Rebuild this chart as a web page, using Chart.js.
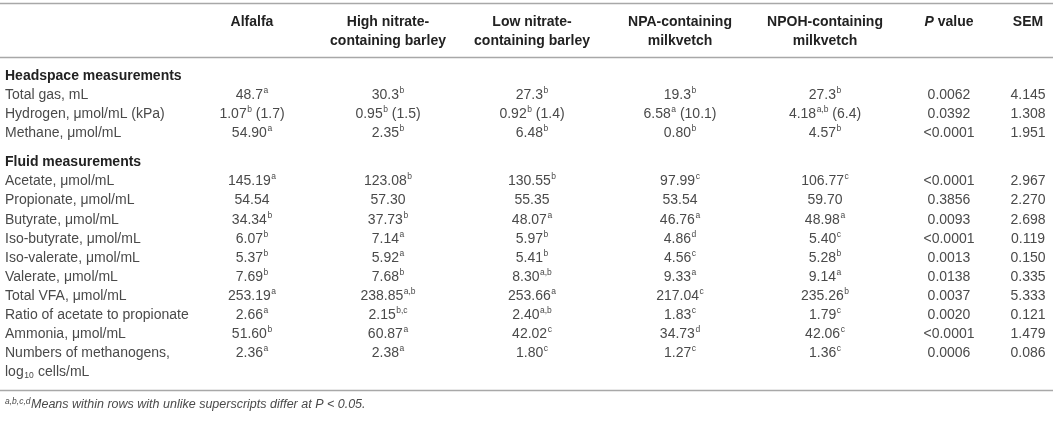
<!DOCTYPE html>
<html>
<head>
<meta charset="utf-8">
<script src="https://cdn.jsdelivr.net/npm/chart.js@4.4.1/dist/chart.umd.min.js"></script>
<style>
  html, body { margin: 0; padding: 0; background: #ffffff; }
  #wrap { width: 1055px; height: 421px; position: relative; }
</style>
</head>
<body>
<div id="wrap"><canvas id="c"></canvas></div>
<script>
// ---------------- DATA ----------------
const columnHeaders = [
  ['Alfalfa'],
  ['High nitrate-', 'containing barley'],
  ['Low nitrate-', 'containing barley'],
  ['NPA-containing', 'milkvetch'],
  ['NPOH-containing', 'milkvetch'],
  ['P value'],
  ['SEM']
];
const sections = ['Headspace measurements', 'Fluid measurements'];
const sectionRowCounts = [3, 10];
const rowLabels = [
  'Total gas, mL',
  'Hydrogen, \u03bcmol/mL (kPa)',
  'Methane, \u03bcmol/mL',
  'Acetate, \u03bcmol/mL',
  'Propionate, \u03bcmol/mL',
  'Butyrate, \u03bcmol/mL',
  'Iso-butyrate, \u03bcmol/mL',
  'Iso-valerate, \u03bcmol/mL',
  'Valerate, \u03bcmol/mL',
  'Total VFA, \u03bcmol/mL',
  'Ratio of acetate to propionate',
  'Ammonia, \u03bcmol/mL',
  'Numbers of methanogens,'
];
const rowDecimals = [1, 2, 2, 2, 2, 2, 2, 2, 2, 2, 2, 2, 2];

const alfalfa     = [48.7, 1.07, 54.90, 145.19, 54.54, 34.34, 6.07, 5.37, 7.69, 253.19, 2.66, 51.60, 2.36];
const alfalfaSup  = ['a', 'b', 'a', 'a', '', 'b', 'b', 'b', 'b', 'a', 'a', 'b', 'a'];
const highNitrate    = [30.3, 0.95, 2.35, 123.08, 57.30, 37.73, 7.14, 5.92, 7.68, 238.85, 2.15, 60.87, 2.38];
const highNitrateSup = ['b', 'b', 'b', 'b', '', 'b', 'a', 'a', 'b', 'a,b', 'b,c', 'a', 'a'];
const lowNitrate     = [27.3, 0.92, 6.48, 130.55, 55.35, 48.07, 5.97, 5.41, 8.30, 253.66, 2.40, 42.02, 1.80];
const lowNitrateSup  = ['b', 'b', 'b', 'b', '', 'a', 'b', 'b', 'a,b', 'a', 'a,b', 'c', 'c'];
const npaMilkvetch    = [19.3, 6.58, 0.80, 97.99, 53.54, 46.76, 4.86, 4.56, 9.33, 217.04, 1.83, 34.73, 1.27];
const npaMilkvetchSup = ['b', 'a', 'b', 'c', '', 'a', 'd', 'c', 'a', 'c', 'c', 'd', 'c'];
const npohMilkvetch    = [27.3, 4.18, 4.57, 106.77, 59.70, 48.98, 5.40, 5.28, 9.14, 235.26, 1.79, 42.06, 1.36];
const npohMilkvetchSup = ['b', 'a,b', 'b', 'c', '', 'a', 'c', 'b', 'a', 'b', 'c', 'c', 'c'];
const hydrogenKPa = [1.7, 1.5, 1.4, 10.1, 6.4];   // shown in brackets on the hydrogen row
const hydrogenRow = 1;
const pValues = ['0.0062', '0.0392', '<0.0001', '<0.0001', '0.3856', '0.0093', '<0.0001', '0.0013', '0.0138', '0.0037', '0.0020', '<0.0001', '0.0006'];
const sem = [4.145, 1.308, 1.951, 2.967, 2.270, 2.698, 0.119, 0.150, 0.335, 5.333, 0.121, 1.479, 0.086];
const footnoteSup = 'a,b,c,d';
const footnoteText = 'Means within rows with unlike superscripts differ at P < 0.05.';

// ---------------- LAYOUT (not data) ----------------
const W = 1055, H = 421;
const LABEL_X = 5;
const COL_X = [252, 388, 532, 680, 825, 949, 1028];
const HEAD_Y = [22, 41];
const RULE_TOP = 3, RULE_MID = 57, RULE_BOT = 390;
const PITCH = 19.1;
const FOOT_Y = 405;
const FAM = '"Liberation Sans", Arial, Helvetica, sans-serif';
const FONT_BODY = '14px ' + FAM;
const FONT_BOLD = 'bold 14px ' + FAM;
const FONT_SUP = '8.5px ' + FAM;
const BODY_COLOR = '#4a4a4a';
const HEAD_COLOR = '#222222';
const RULE_COLOR = '#a8a8a8';

// compute row y positions from the section structure
const sectionY = [];
const rowY = [];
(function () {
  let y = 76;
  sections.forEach((s, si) => {
    if (si > 0) y += 10;
    sectionY.push(y);
    y += PITCH;
    for (let k = 0; k < sectionRowCounts[si]; k++) {
      rowY.push(y);
      y += PITCH;
    }
  });
})();

const treatmentValues = [alfalfa, highNitrate, lowNitrate, npaMilkvetch, npohMilkvetch];
const treatmentSups = [alfalfaSup, highNitrateSup, lowNitrateSup, npaMilkvetchSup, npohMilkvetchSup];

function cellTexts(col, r) {
  if (col < 5) {
    const main = treatmentValues[col][r].toFixed(rowDecimals[r]);
    const sup = treatmentSups[col][r];
    const suffix = r === hydrogenRow ? ' (' + hydrogenKPa[col].toFixed(1) + ')' : '';
    return { main, sup, suffix };
  }
  if (col === 5) return { main: pValues[r], sup: '', suffix: '' };
  return { main: sem[r].toFixed(3), sup: '', suffix: '' };
}

// datasets: one per column, a point per row placed through the chart scales
const datasets = [];
datasets.push({
  label: 'rowLabels',
  data: rowLabels.map((_, r) => ({ x: LABEL_X, y: rowY[r] })),
  pointRadius: 0, pointHoverRadius: 0
});
COL_X.forEach((cx, c) => {
  datasets.push({
    label: 'col' + c,
    data: rowLabels.map((_, r) => ({ x: cx, y: rowY[r] })),
    pointRadius: 0, pointHoverRadius: 0
  });
});
datasets.push({
  label: 'headers',
  data: COL_X.map(cx => ({ x: cx, y: HEAD_Y[0] })),
  pointRadius: 0, pointHoverRadius: 0
});
datasets.push({
  label: 'sections',
  data: sectionY.map(y => ({ x: LABEL_X, y })),
  pointRadius: 0, pointHoverRadius: 0
});

function drawRich(ctx, x, y, parts, align) {
  ctx.font = FONT_BODY;
  const wm = ctx.measureText(parts.main).width;
  const ws = ctx.measureText(parts.suffix).width;
  ctx.font = FONT_SUP;
  const wsup = parts.sup ? ctx.measureText(parts.sup).width + 0.5 : 0;
  const total = wm + wsup + ws;
  let sx = align === 'center' ? x - total / 2 : x;
  ctx.textAlign = 'left';
  ctx.textBaseline = 'middle';
  ctx.font = FONT_BODY;
  ctx.fillText(parts.main, sx, y);
  sx += wm;
  if (parts.sup) {
    ctx.font = FONT_SUP;
    ctx.fillText(parts.sup, sx + 0.5, y - 4.5);
    sx += wsup;
  }
  if (parts.suffix) {
    ctx.font = FONT_BODY;
    ctx.fillText(parts.suffix, sx, y);
  }
}

const tablePlugin = {
  id: 'tableText',
  afterDatasetsDraw(chart) {
    const ctx = chart.ctx;
    const xs = chart.scales.x, ys = chart.scales.y;
    ctx.save();
    // rules
    ctx.strokeStyle = RULE_COLOR;
    ctx.lineWidth = 1.4;
    [RULE_TOP, RULE_MID, RULE_BOT].forEach(v => {
      const py = Math.round(ys.getPixelForValue(v)) + 0.5;
      ctx.beginPath();
      ctx.moveTo(xs.getPixelForValue(0), py);
      ctx.lineTo(xs.getPixelForValue(W - 2), py);
      ctx.stroke();
    });

    const metas = {};
    chart.data.datasets.forEach((d, i) => { metas[d.label] = chart.getDatasetMeta(i).data; });

    // headers
    const hm = metas['headers'];
    ctx.fillStyle = HEAD_COLOR;
    ctx.textBaseline = 'middle';
    columnHeaders.forEach((lines, c) => {
      const p = hm[c];
      lines.forEach((t, li) => {
        const py = ys.getPixelForValue(HEAD_Y[li]);
        if (t === 'P value') {
          ctx.font = 'italic bold 14px ' + FAM;
          const wP = ctx.measureText('P').width;
          ctx.font = FONT_BOLD;
          const wr = ctx.measureText(' value').width;
          const sx = p.x - (wP + wr) / 2;
          ctx.textAlign = 'left';
          ctx.font = 'italic bold 14px ' + FAM;
          ctx.fillText('P', sx, py);
          ctx.font = FONT_BOLD;
          ctx.fillText(' value', sx + wP, py);
        } else {
          ctx.font = FONT_BOLD;
          ctx.textAlign = 'center';
          ctx.fillText(t, p.x, py);
        }
      });
    });

    // section headers
    ctx.textAlign = 'left';
    ctx.font = FONT_BOLD;
    metas['sections'].forEach((p, si) => {
      ctx.fillText(sections[si], p.x, p.y);
    });

    // row labels
    ctx.fillStyle = BODY_COLOR;
    metas['rowLabels'].forEach((p, r) => {
      ctx.font = FONT_BODY;
      ctx.textAlign = 'left';
      ctx.fillText(rowLabels[r], p.x, p.y);
      if (r === rowLabels.length - 1) {
        const y2 = p.y + PITCH;
        ctx.fillText('log', p.x, y2);
        const wl = ctx.measureText('log').width;
        ctx.font = FONT_SUP;
        ctx.fillText('10', p.x + wl + 0.5, y2 + 3);
        const w10 = ctx.measureText('10').width;
        ctx.font = FONT_BODY;
        ctx.fillText(' cells/mL', p.x + wl + w10 + 1, y2);
      }
    });

    // cells
    COL_X.forEach((_, c) => {
      metas['col' + c].forEach((p, r) => {
        drawRich(ctx, p.x, p.y, cellTexts(c, r), 'center');
      });
    });

    // footnote
    const fy = ys.getPixelForValue(FOOT_Y);
    ctx.font = 'italic 8.5px ' + FAM;
    ctx.textAlign = 'left';
    ctx.fillText(footnoteSup, LABEL_X, fy - 3.5);
    const wf = ctx.measureText(footnoteSup).width;
    ctx.font = 'italic 12.5px ' + FAM;
    ctx.fillText(footnoteText, LABEL_X + wf + 0.5, fy);
    ctx.restore();
  }
};

new Chart(document.getElementById('c'), {
  type: 'scatter',
  data: { datasets },
  options: {
    responsive: true,
    maintainAspectRatio: false,
    animation: false,
    events: [],
    layout: { padding: 0 },
    plugins: { legend: { display: false }, tooltip: { enabled: false } },
    scales: {
      x: { type: 'linear', min: 0, max: W, display: false },
      y: { type: 'linear', min: 0, max: H, reverse: true, display: false }
    }
  },
  plugins: [tablePlugin]
});
</script>
</body>
</html>
